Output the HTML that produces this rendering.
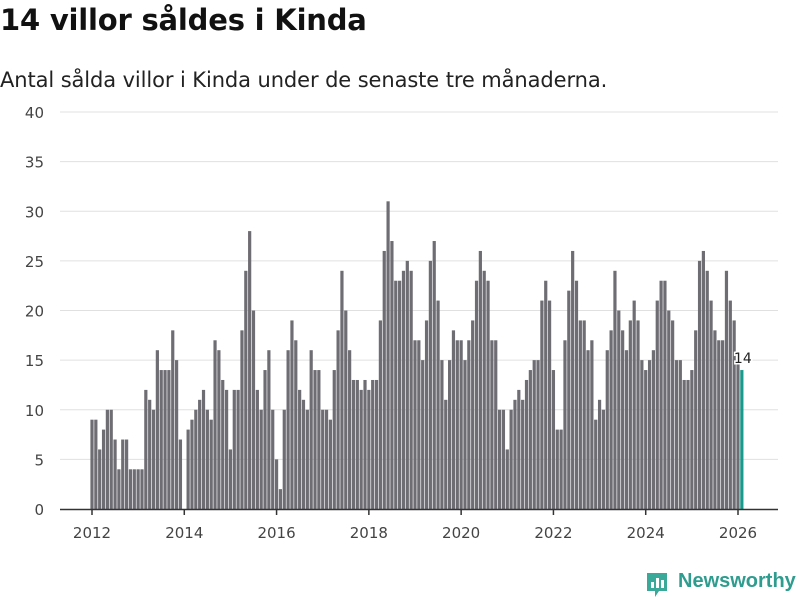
<!DOCTYPE html>
<html><head><meta charset="utf-8">
<style>
body{margin:0;background:#fff;width:800px;height:600px;overflow:hidden;font-family:"DejaVu Sans",sans-serif;}
#title{position:absolute;left:0;top:3px;font-size:29px;font-weight:bold;color:#111;margin:0;letter-spacing:-0.2px;}
#sub{position:absolute;left:0;top:68px;font-size:21px;color:#222;white-space:nowrap;letter-spacing:-0.1px;}
svg{position:absolute;left:0;top:0;}
</style></head><body>
<h1 id="title">14 villor såldes i Kinda</h1>
<div id="sub">Antal sålda villor i Kinda under de senaste tre månaderna.</div>
<svg id="chart" width="800" height="600"></svg>
<script>
const values = [9,9,6,8,10,10,7,4,7,7,4,4,4,4,12,11,10,16,14,14,14,18,15,7,0,8,9,10,11,
12,10,9,17,16,13,12,6,12,12,18,24,28,20,12,10,14,16,10,5,2,10,16,19,17,12,11,10,
16,14,14,10,10,9,14,18,24,20,16,13,13,12,13,12,13,13,19,26,31,27,23,23,24,25,24,17,
17,15,19,25,27,21,15,11,15,18,17,17,15,17,19,23,26,24,23,17,17,10,10,6,10,11,12,11,13,
14,15,15,21,23,21,14,8,8,17,22,26,23,19,19,16,17,9,11,10,16,18,24,20,18,16,19,21,19,
15,14,15,16,21,23,23,20,19,15,15,13,13,14,18,25,26,24,21,18,17,17,24,21,19,15,14];
const startYear = 2012;
const yTicks = [0,5,10,15,20,25,30,35,40];
const xTicks = [2012,2014,2016,2018,2020,2022,2024,2026];
const NS='http://www.w3.org/2000/svg';
const svg=document.getElementById('chart');
function y(v){return 509-v*(397/40);}
function x(monthIndex){return 92+monthIndex*(646/168);}
function mk(t,a){const e=document.createElementNS(NS,t);for(const k in a)e.setAttribute(k,a[k]);svg.appendChild(e);return e;}
yTicks.forEach(t=>{
  if(t>0){const g=mk('line',{x1:60,x2:778,y1:y(t),y2:y(t),stroke:'#e0e0e0','stroke-width':1});
  
  }
  const l=mk('text',{x:44,y:y(t)+6,'text-anchor':'end','font-size':15,fill:'#444','font-family':'DejaVu Sans, sans-serif'});
  l.textContent=t;
  
  
});
values.forEach((v,i)=>{
  const last=i===values.length-1;
  const r=mk('rect',{x:x(i)-1.6,y:y(v),width:3.2,height:509-y(v),fill:last?'#1a9a8c':'#6e6d73'});
  
  
});
const li=values.length-1;
const lab=mk('text',{x:x(li)+1,y:y(values[li])-7,'text-anchor':'middle','font-size':14,fill:'#222',stroke:'#fff','stroke-width':3,'paint-order':'stroke','font-family':'DejaVu Sans, sans-serif'});
lab.textContent=values[li];


const ax=mk('line',{x1:60,x2:778,y1:509.5,y2:509.5,stroke:'#333','stroke-width':1.5});


xTicks.forEach(yr=>{
  const px=x((yr-startYear)*12);
  const t=mk('line',{x1:px,x2:px,y1:509,y2:515,stroke:'#333','stroke-width':1.5});
  
  
  const l=mk('text',{x:px,y:538,'text-anchor':'middle','font-size':15,fill:'#444','font-family':'DejaVu Sans, sans-serif'});
  l.textContent=yr;
  
  
});
</script>
<div style="position:absolute;left:645px;top:570px;height:28px;">
<svg width="24" height="28" style="position:absolute;left:0;top:1px;"><path d="M2 2h20v18h-8l-4 6v-6H2z" fill="#3aa99a"/><rect x="6" y="11" width="3" height="6" fill="#fff"/><rect x="11" y="7" width="3" height="10" fill="#fff"/><rect x="16" y="9" width="3" height="8" fill="#fff"/></svg>
<span style="position:absolute;left:33px;top:0;font-size:20px;font-weight:bold;color:#2e9c8e;white-space:nowrap;font-family:'Liberation Sans',sans-serif;">Newsworthy</span>
</div>
</body></html>
